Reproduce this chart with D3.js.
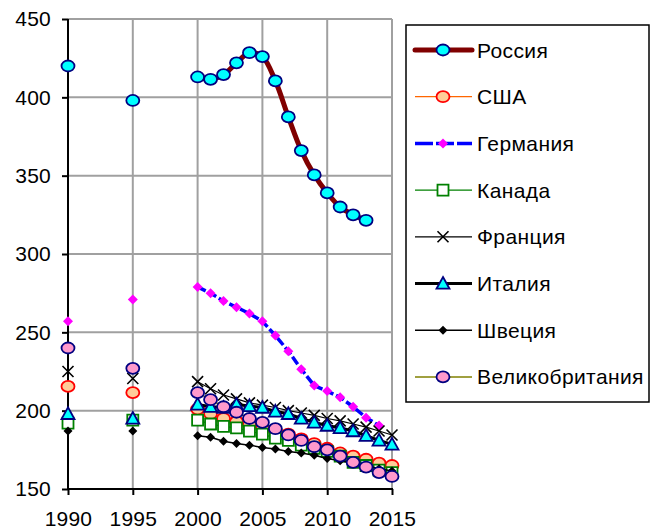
<!DOCTYPE html>
<html>
<head>
<meta charset="utf-8">
<script src="https://d3js.org/d3.v7.min.js"></script>
<style>
  body { margin: 0; background: #fff; }
  svg text { font-family: Arial, "Liberation Sans", sans-serif; fill: #000; }
</style>
</head>
<body>
<svg class="chart" width="658" height="530"></svg>
<script>
// years on the x axis; 1990 and 1995 are single points, yearly data from 2000
const years = [1990, 1995, 2000, 2001, 2002, 2003, 2004, 2005, 2006, 2007, 2008, 2009, 2010, 2011, 2012, 2013, 2014, 2015];

const russia  = [420, 398, 413, 411.5, 414.5, 422, 428.5, 426, 410.5, 387.5, 366, 350.5, 339, 330, 325, 321.5, null, null];
const usa     = [215.5, 211.5, 201, 198, 195, 193, 191, 189, 187, 185, 182, 179, 176, 173, 171, 169, 166.5, 165];
const germany = [257, 271, 279, 275, 270, 266, 262, 257, 248, 238, 226.5, 216, 212.5, 208.5, 202.5, 195.5, 190.5, null];
const canada  = [192, 194, 194, 191.5, 190, 189, 187, 185, 182.5, 181, 178, 176, 174, 171, 167, 165, 162, 160.5];
const france  = [225, 220.5, 218.5, 214, 210, 207.5, 205, 203.5, 202, 200, 198.5, 197, 195, 193.5, 191.5, 189.5, 187, 184.5];
const italy   = [198, 195, 204, 202.5, 202, 204, 203, 202, 199.5, 198, 195, 192.5, 190.5, 189, 187, 184, 181, 178.5];
const sweden  = [187, 187, 184, 183, 180.5, 179, 178, 176.5, 175.5, 174, 173, 171.5, 169.5, 168, 166.5, 165, 163, 161.5];
const britain = [240, 227, 211.5, 207, 202.5, 199, 195, 192.5, 188.5, 184.5, 181, 177, 175, 171, 167, 164, 160.5, 158];

const yTicks = [150, 200, 250, 300, 350, 400, 450];
const xTicks = [1990, 1995, 2000, 2005, 2010, 2015];

const series = [
  {name: "Россия", values: russia, line: "#800000", width: 5, marker: "circle", fill: "#00FFFF", stroke: "#000080", rx: 6.5, ry: 5.5, smooth: true},
  {name: "США", values: usa, line: "#FF6600", width: 1.2, marker: "circle", fill: "#FFCC99", stroke: "#FF0000", rx: 6.5, ry: 5.5},
  {name: "Германия", values: germany, line: "#0000FF", width: 3.5, dash: "9,3", marker: "diamond", fill: "#FF00FF", stroke: "none", size: 5},
  {name: "Канада", values: canada, line: "#008000", width: 1.2, marker: "square", fill: "#FFFFFF", stroke: "#008000", size: 5.5},
  {name: "Франция", values: france, line: "#000000", width: 1.2, marker: "cross", stroke: "#000000", size: 5.5},
  {name: "Италия", values: italy, line: "#000000", width: 3, marker: "triangle", fill: "#00FFFF", stroke: "#000080", size: 6.5},
  {name: "Швеция", values: sweden, line: "#000000", width: 1.5, marker: "diamond", fill: "#000000", stroke: "none", size: 4.5},
  {name: "Великобритания", values: britain, line: "#808000", width: 1.5, marker: "circle", fill: "#FF99CC", stroke: "#000080", rx: 6.5, ry: 5.5}
];

const svg = d3.select(".chart");
const xs = d3.scaleLinear().domain([1990, 2015]).range([68, 392]);
const ys = d3.scaleLinear().domain([150, 450]).range([489, 19]);

// grid
svg.append("g").selectAll("line.h").data(yTicks).join("line")
  .attr("x1", xs(1990)).attr("x2", xs(2015))
  .attr("y1", d => ys(d)).attr("y2", d => ys(d))
  .attr("stroke", "#A0A0A0").attr("stroke-width", 2);
svg.append("g").selectAll("line.v").data(xTicks).join("line")
  .attr("x1", d => xs(d)).attr("x2", d => xs(d))
  .attr("y1", ys(450)).attr("y2", ys(150))
  .attr("stroke", "#A0A0A0").attr("stroke-width", 2);

// axes
const yAxis = d3.axisLeft(ys).tickValues(yTicks).tickSize(6).tickPadding(11).tickFormat(d3.format("d"));
const xAxis = d3.axisBottom(xs).tickValues(xTicks).tickSize(6).tickPadding(16).tickFormat(d3.format("d"));
const gy = svg.append("g").attr("transform", "translate(" + xs(1990) + ",0)").call(yAxis);
const gx = svg.append("g").attr("transform", "translate(0," + ys(150) + ")").call(xAxis);
[gy, gx].forEach(g => {
  g.select(".domain").remove();
  g.selectAll(".tick line").attr("stroke", "#000").attr("stroke-width", 2);
  g.selectAll(".tick text").style("font-size", "21px").style("letter-spacing", "0.2px").attr("fill", "#000");
});
svg.append("line").attr("x1", xs(1990)).attr("x2", xs(1990)).attr("y1", ys(450)).attr("y2", ys(150) + 1)
  .attr("stroke", "#000").attr("stroke-width", 2);
svg.append("line").attr("x1", xs(1990) - 1).attr("x2", xs(2015) + 1).attr("y1", ys(150)).attr("y2", ys(150))
  .attr("stroke", "#000").attr("stroke-width", 2);

function markerPath(type, s) {
  if (type === "diamond") return `M0,${-s}L${s},0L0,${s}L${-s},0Z`;
  if (type === "square") return `M${-s},${-s}H${s}V${s}H${-s}Z`;
  if (type === "triangle") return `M0,${-s}L${s},${s * 0.8}L${-s},${s * 0.8}Z`;
  if (type === "cross") return `M${-s},${-s}L${s},${s}M${s},${-s}L${-s},${s}`;
  return "";
}

function drawMarker(g, sr, x, y) {
  if (sr.marker === "circle") {
    g.append("ellipse").attr("cx", x).attr("cy", y).attr("rx", sr.rx).attr("ry", sr.ry)
      .attr("fill", sr.fill).attr("stroke", sr.stroke).attr("stroke-width", 1.8);
  } else {
    g.append("path").attr("transform", "translate(" + x + "," + y + ")")
      .attr("d", markerPath(sr.marker, sr.size))
      .attr("fill", sr.marker === "cross" ? "none" : sr.fill)
      .attr("stroke", sr.stroke).attr("stroke-width", sr.marker === "cross" ? 1.6 : 1.8);
  }
}

// series: line across the yearly part, then markers
series.forEach(sr => {
  const pts = years.map((yr, i) => ({yr: yr, v: sr.values[i]})).filter(p => p.v != null);
  const g = svg.append("g");
  const line = d3.line().x(p => xs(p.yr)).y(p => ys(p.v))
    .curve(sr.smooth ? d3.curveCatmullRom.alpha(0.5) : d3.curveLinear);
  g.append("path").datum(pts.filter(p => p.yr >= 2000))
    .attr("d", line).attr("fill", "none")
    .attr("stroke", sr.line).attr("stroke-width", sr.width)
    .attr("stroke-dasharray", sr.dash || null).attr("stroke-linejoin", "round");
  pts.forEach(p => drawMarker(g, sr, xs(p.yr), ys(p.v)));
});

// legend
const lg = svg.append("g");
lg.append("rect").attr("x", 406).attr("y", 25).attr("width", 243).attr("height", 377)
  .attr("fill", "#fff").attr("stroke", "#000").attr("stroke-width", 1.5);
series.forEach((sr, i) => {
  const cy = 50 + i * 46.7;
  lg.append("line").attr("x1", 415).attr("x2", 472).attr("y1", cy).attr("y2", cy)
    .attr("stroke", sr.line).attr("stroke-width", sr.width)
    .attr("stroke-dasharray", sr.dash ? "18,3" : null).attr("stroke-linecap", sr.width > 4 ? "round" : "butt");
  drawMarker(lg, sr, 443, cy);
  lg.append("text").attr("x", 477).attr("y", cy + 7.5).style("font-size", "21px")
    .style("letter-spacing", "0.4px").text(sr.name);
});
</script>
</body>
</html>
